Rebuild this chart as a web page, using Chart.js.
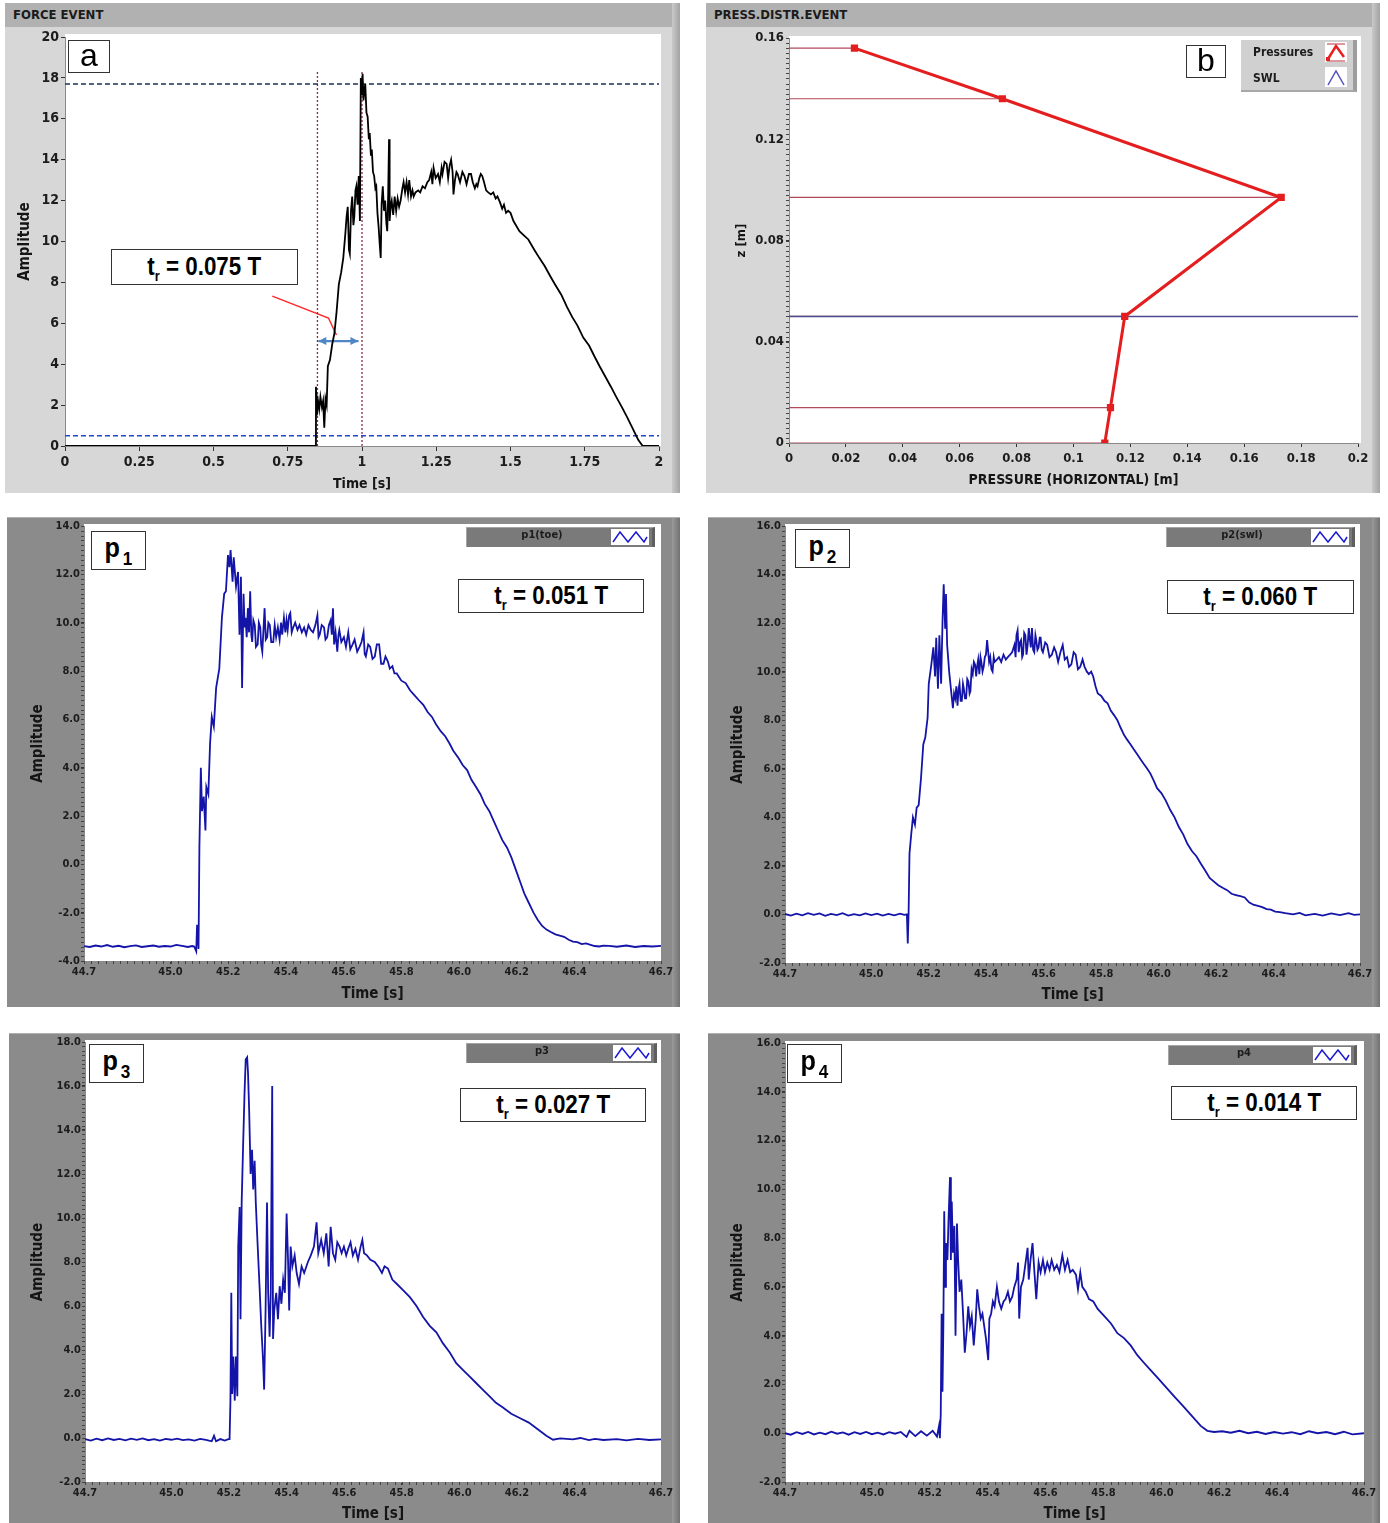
<!DOCTYPE html>
<html>
<head>
<meta charset="utf-8">
<script src="https://cdn.jsdelivr.net/npm/chart.js@4.4.1/dist/chart.umd.min.js"></script>
<style>
  body { margin: 0; background: #fff; }
  #page { position: relative; width: 1388px; height: 1523px; overflow: hidden; }
  .frame { position: absolute; }
  .frame canvas { position: absolute; left: 0; top: 0; }
  .light { background: #d7d7d7; }
  .dark { background: #8b8b8b; border-top: 1px solid #b0b0b0; box-sizing: border-box; }
  .strip { position: absolute; top: 0; right: 0; width: 8px; height: 100%; }
  .light .strip { background: linear-gradient(to right, #c9c9c9, #a3a3a3); }
  .dark .strip { background: linear-gradient(to right, #9a9a9a, #727272); }
  .titlebar { position: absolute; left: 0; top: 0; right: 0; height: 24px; background: #b1b1b1;
    font: bold 13px 'DejaVu Sans Condensed', 'Liberation Sans Narrow', 'Liberation Sans', sans-serif;
    color: #1b1b1b; line-height: 24px; padding-left: 8px; }
  .box { position: absolute; background: #fff; border: 1px solid #333; box-sizing: border-box;
    display: flex; align-items: center; justify-content: center; color: #000; }
  .letter { font: 32px 'Liberation Sans', Arial, sans-serif; line-height: 28px; padding-bottom: 4px; }
  .tr span { display: inline-block; transform: scaleX(0.86); font: bold 26px 'Liberation Sans', Arial, sans-serif; white-space: nowrap; }
  .tr sub { font-size: 15px; vertical-align: -6px; }
  .pb span { font: bold 28px 'Liberation Sans', Arial, sans-serif; transform: scaleX(0.9); display: inline-block; }
  .pb sub { font-size: 19px; vertical-align: -8px; margin-left: 3px; }
  .plegend { position: absolute; height: 20px; box-sizing: border-box; background: #7a7a7a;
    border-top: 1px solid #a5a5a5; border-left: 1px solid #a5a5a5; border-right: 3px solid #5f5f5f; }
  .plegend .lbl { position: absolute; left: 0; width: 150px; top: 0; line-height: 18px; text-align: center;
    font: bold 11px 'DejaVu Sans Condensed', 'Liberation Sans Narrow', 'Liberation Sans', sans-serif; color: #1c1c1c; }
  .plegend svg { position: absolute; top: 1px; right: 3px; background: #fff; }
  .blegend { position: absolute; background: #d0d0d0; border-right: 4px solid #9d9d9d; border-bottom: 2px solid #a8a8a8; box-sizing: border-box;
    font: bold 12px 'DejaVu Sans Condensed', 'Liberation Sans Narrow', 'Liberation Sans', sans-serif; color: #1c1c1c; }
  .blegend div { position: absolute; left: 12px; }
  .blegend svg { position: absolute; left: 84px; background: #fff; }
</style>
</head>
<body>
<div id="page">
  <div class="frame light" style="left:5px;top:3px;width:675px;height:490px">
    <div class="titlebar">FORCE EVENT</div><div class="strip"></div>
    <canvas id="chartA"></canvas>
  </div>
  <div class="frame light" style="left:706px;top:3px;width:674px;height:490px">
    <div class="titlebar">PRESS.DISTR.EVENT</div><div class="strip"></div>
    <canvas id="chartB"></canvas>
  </div>
  <div class="frame dark" style="left:7px;top:517px;width:673px;height:490px"><div class="strip"></div><canvas id="chartP1"></canvas></div>
  <div class="frame dark" style="left:708px;top:517px;width:672px;height:490px"><div class="strip"></div><canvas id="chartP2"></canvas></div>
  <div class="frame dark" style="left:9px;top:1033px;width:671px;height:490px"><div class="strip"></div><canvas id="chartP3"></canvas></div>
  <div class="frame dark" style="left:708px;top:1033px;width:672px;height:490px"><div class="strip"></div><canvas id="chartP4"></canvas></div>

  <!-- panel labels and rise-time boxes -->
  <div class="box letter" style="left:68px;top:40px;width:42px;height:33px">a</div>
  <div class="box tr" style="left:111px;top:249px;width:187px;height:36px"><span>t<sub>r</sub> = 0.075 T</span></div>
  <div class="box letter" style="left:1186px;top:45px;width:40px;height:33px">b</div>
  <div class="blegend" style="left:1241px;top:40px;width:116px;height:52px">
    <div style="top:5px">Pressures</div>
    <div style="top:31px">SWL</div>
    <svg style="top:2px" width="22" height="20"><line x1="2" y1="2" x2="20" y2="2" stroke="#c03040" stroke-width="1"/><polyline points="3,17 11,4 19,15" fill="none" stroke="#e82020" stroke-width="2.5"/><rect x="1" y="15" width="4" height="4" fill="#e82020"/><line x1="2" y1="19" x2="20" y2="19" stroke="#c03040" stroke-width="1"/></svg>
    <svg style="top:27px" width="22" height="20"><polyline points="3,18 11,4 19,18" fill="none" stroke="#5050c0" stroke-width="1.5"/></svg>
  </div>

  <div class="box pb" style="left:91px;top:531px;width:55px;height:39px"><span>p<sub>1</sub></span></div>
  <div class="box tr" style="left:458px;top:579px;width:186px;height:34px"><span>t<sub>r</sub> = 0.051 T</span></div>
  <div class="plegend" style="left:466px;top:527px;width:189px"><div class="lbl">p1(toe)</div>
    <svg width="38" height="16"><polyline points="2,13 9,3 17,13 25,3 33,13 36,8" fill="none" stroke="#1a1ad0" stroke-width="1.5"/></svg></div>

  <div class="box pb" style="left:795px;top:529px;width:55px;height:39px"><span>p<sub>2</sub></span></div>
  <div class="box tr" style="left:1167px;top:580px;width:187px;height:34px"><span>t<sub>r</sub> = 0.060 T</span></div>
  <div class="plegend" style="left:1166px;top:527px;width:189px"><div class="lbl">p2(swl)</div>
    <svg width="38" height="16"><polyline points="2,13 9,3 17,13 25,3 33,13 36,8" fill="none" stroke="#1a1ad0" stroke-width="1.5"/></svg></div>

  <div class="box pb" style="left:89px;top:1044px;width:55px;height:39px"><span>p<sub>3</sub></span></div>
  <div class="box tr" style="left:460px;top:1088px;width:186px;height:34px"><span>t<sub>r</sub> = 0.027 T</span></div>
  <div class="plegend" style="left:466px;top:1043px;width:191px"><div class="lbl">p3</div>
    <svg width="38" height="16"><polyline points="2,13 9,3 17,13 25,3 33,13 36,8" fill="none" stroke="#1a1ad0" stroke-width="1.5"/></svg></div>

  <div class="box pb" style="left:787px;top:1044px;width:55px;height:39px"><span>p<sub>4</sub></span></div>
  <div class="box tr" style="left:1171px;top:1086px;width:186px;height:34px"><span>t<sub>r</sub> = 0.014 T</span></div>
  <div class="plegend" style="left:1168px;top:1045px;width:189px"><div class="lbl">p4</div>
    <svg width="38" height="16"><polyline points="2,13 9,3 17,13 25,3 33,13 36,8" fill="none" stroke="#1a1ad0" stroke-width="1.5"/></svg></div>
</div>

<script>
// ---------- data: (a) force event, [time s, amplitude] ----------
const forceSamples = [
  [0, 0], [0.844, 0], [0.845, 2.9], [0.848, 1.5], [0.852, 2.2], [0.856, 1.8], [0.86, 2.4], [0.865, 1.9],
  [0.869, 2.2], [0.873, 0.9], [0.877, 2.3], [0.881, 2.0], [0.885, 3.9], [0.892, 4.2], [0.9, 5.0], [0.907, 5.5],
  [0.914, 6.5], [0.922, 7.9], [0.93, 8.5], [0.937, 9.2], [0.944, 10.4], [0.948, 11.2], [0.952, 11.7], [0.956, 9.6],
  [0.959, 9.4], [0.963, 11.5], [0.967, 12.2], [0.971, 10.8], [0.974, 11.2], [0.978, 12.5], [0.981, 12.7], [0.985, 11.8],
  [0.989, 13.2], [0.993, 11.0], [0.996, 18.0], [1.0, 17.2], [1.002, 18.2], [1.005, 16.9], [1.008, 17.4], [1.011, 17.7],
  [1.015, 16.3], [1.019, 16.1], [1.023, 15.0], [1.026, 15.3], [1.03, 14.2], [1.033, 14.5], [1.037, 13.4], [1.041, 13.2],
  [1.045, 12.6], [1.048, 12.7], [1.052, 11.4], [1.056, 10.7], [1.06, 9.8], [1.063, 9.2], [1.066, 11.8], [1.07, 12.7],
  [1.074, 11.5], [1.078, 12.0], [1.082, 10.9], [1.085, 10.5], [1.088, 12.2], [1.091, 15.0], [1.093, 11.0], [1.097, 11.8],
  [1.1, 12.0], [1.105, 11.3], [1.11, 12.2], [1.115, 11.5], [1.12, 12.1], [1.125, 11.7], [1.13, 12.0], [1.136, 12.6],
  [1.14, 12.9], [1.145, 12.4], [1.15, 12.9], [1.155, 12.3], [1.159, 13.0], [1.165, 12.2], [1.17, 12.5], [1.174, 12.2],
  [1.18, 12.4], [1.189, 12.5], [1.196, 12.4], [1.204, 12.7], [1.212, 12.6], [1.22, 12.9], [1.226, 13.0], [1.233, 13.4],
  [1.237, 12.8], [1.241, 13.6], [1.248, 13.1], [1.256, 13.3], [1.262, 12.9], [1.268, 13.6], [1.271, 13.3], [1.278, 13.9],
  [1.285, 13.8], [1.29, 13.1], [1.295, 13.7], [1.3, 14.0], [1.305, 13.4], [1.308, 12.3], [1.313, 13.0], [1.318, 13.4],
  [1.322, 13.3], [1.33, 12.9], [1.338, 13.4], [1.345, 13.2], [1.352, 12.8], [1.36, 13.3], [1.367, 13.3], [1.373, 12.9],
  [1.38, 12.6], [1.385, 12.8], [1.389, 12.7], [1.395, 13.1], [1.4, 13.3], [1.405, 13.2], [1.411, 12.9], [1.418, 12.5],
  [1.425, 12.4], [1.434, 12.3], [1.442, 12.4], [1.45, 12.1], [1.456, 12.2], [1.465, 11.9], [1.472, 11.6], [1.478, 11.8],
  [1.485, 11.4], [1.492, 11.5], [1.5, 11.4], [1.51, 11.0], [1.53, 10.5], [1.545, 10.3], [1.56, 10.1], [1.58, 9.6],
  [1.597, 9.2], [1.615, 8.8], [1.634, 8.3], [1.65, 7.9], [1.671, 7.4], [1.69, 6.8], [1.708, 6.3], [1.725, 5.9],
  [1.745, 5.3], [1.765, 4.9], [1.782, 4.4], [1.8, 3.9], [1.819, 3.4], [1.838, 2.9], [1.856, 2.4], [1.875, 1.9],
  [1.893, 1.4], [1.91, 0.9], [1.93, 0.3], [1.945, 0], [2.0, 0]
];
const forcePeakLevel = 17.7;     // dashed line near the peak
const forceBaseLevel = 0.5;      // dashed threshold line
const riseMarks = [0.85, 1.0];   // dotted verticals: start of rise, peak
const riseMarkTop = 18.3;
const pointerSamples = [[0.698, 7.33], [0.887, 6.26], [0.914, 5.43]];
const riseArrow = [[0.853, 5.13], [0.988, 5.13]];

// ---------- data: (b) pressure distribution, [pressure m, z m] ----------
const pressurePoints = [[0.023, 0.156], [0.075, 0.136], [0.173, 0.097], [0.118, 0.050], [0.113, 0.014], [0.111, 0.0]];
const swlLevel = 0.050;

// ---------- data: time axis of pressure records ----------
const timeTicks = [44.7, 45.0, 45.2, 45.4, 45.6, 45.8, 46.0, 46.2, 46.4, 46.7];

const p1Samples = [
  [44.70, -3.38], [44.72, -3.42], [44.74, -3.36], [44.76, -3.40], [44.78, -3.34], [44.80, -3.41], [44.82, -3.37],
  [44.84, -3.43], [44.86, -3.38], [44.88, -3.35], [44.90, -3.42], [44.92, -3.39], [44.94, -3.36], [44.96, -3.41],
  [44.98, -3.38], [45.00, -3.40], [45.02, -3.33], [45.04, -3.37], [45.06, -3.42], [45.075, -3.38], [45.082, -3.40],
  [45.089, -3.6], [45.092, -2.5], [45.097, -3.5], [45.1, 0.7], [45.105, 4.0], [45.109, 2.2], [45.115, 2.8],
  [45.121, 1.4], [45.124, 3.2], [45.131, 2.9], [45.137, 5.0], [45.143, 6.1], [45.150, 5.7], [45.158, 7.3],
  [45.169, 8.1], [45.178, 10.2], [45.186, 11.2], [45.192, 11.3], [45.199, 12.8], [45.204, 12.3], [45.208, 13.0],
  [45.215, 11.7], [45.219, 12.7], [45.227, 11.5], [45.234, 12.1], [45.239, 9.5], [45.244, 11.9], [45.248, 7.3],
  [45.253, 11.2], [45.257, 9.8], [45.260, 10.2], [45.264, 9.4], [45.268, 10.6], [45.272, 9.6], [45.276, 11.3],
  [45.280, 9.5], [45.283, 9.2], [45.287, 10.1], [45.292, 9.9], [45.296, 9.0], [45.302, 9.1], [45.306, 10.0],
  [45.311, 9.8], [45.314, 9.1], [45.318, 8.8], [45.322, 9.7], [45.326, 10.6], [45.330, 9.3], [45.335, 9.4],
  [45.339, 10.0], [45.344, 9.9], [45.349, 9.2], [45.356, 9.2], [45.361, 9.9], [45.366, 9.4], [45.372, 9.8],
  [45.378, 9.3], [45.383, 10.0], [45.387, 9.5], [45.393, 10.2], [45.398, 9.6], [45.402, 10.1], [45.406, 9.7],
  [45.411, 10.3], [45.415, 10.4], [45.420, 9.6], [45.425, 9.8], [45.432, 10.0], [45.440, 9.7], [45.447, 9.9],
  [45.455, 9.6], [45.463, 9.8], [45.470, 9.5], [45.478, 9.9], [45.486, 9.7], [45.494, 9.6], [45.502, 9.9],
  [45.509, 10.3], [45.513, 9.4], [45.517, 9.5], [45.524, 9.9], [45.532, 9.8], [45.537, 9.3], [45.543, 9.4],
  [45.549, 9.9], [45.555, 10.1], [45.559, 9.5], [45.563, 10.6], [45.567, 9.1], [45.572, 9.6], [45.578, 8.8],
  [45.582, 9.5], [45.585, 9.7], [45.592, 9.2], [45.601, 9.4], [45.608, 9.0], [45.616, 9.6], [45.623, 8.9],
  [45.631, 9.1], [45.638, 9.3], [45.647, 8.8], [45.655, 9.0], [45.662, 9.2], [45.669, 9.6], [45.673, 8.7],
  [45.677, 8.6], [45.685, 9.1], [45.692, 9.0], [45.700, 8.5], [45.708, 8.6], [45.715, 9.1], [45.723, 9.1],
  [45.730, 8.3], [45.738, 8.3], [45.745, 8.6], [45.753, 8.4], [45.760, 8.1], [45.769, 8.2], [45.776, 7.9],
  [45.784, 7.9], [45.800, 7.6], [45.815, 7.5], [45.830, 7.2], [45.845, 7.0], [45.860, 6.8], [45.876, 6.6],
  [45.891, 6.3], [45.906, 6.1], [45.920, 5.8], [45.937, 5.5], [45.952, 5.3], [45.967, 5.0], [45.980, 4.7],
  [45.998, 4.4], [46.013, 4.1], [46.028, 3.9], [46.043, 3.5], [46.059, 3.2], [46.074, 2.9], [46.089, 2.5],
  [46.105, 2.2], [46.120, 1.8], [46.135, 1.4], [46.150, 1.0], [46.166, 0.7], [46.181, 0.3], [46.196, -0.2],
  [46.211, -0.7], [46.226, -1.2], [46.242, -1.6], [46.258, -2.0], [46.273, -2.3], [46.288, -2.55], [46.303, -2.7],
  [46.318, -2.8], [46.334, -2.9], [46.349, -2.95], [46.364, -3.0], [46.380, -3.12], [46.395, -3.2], [46.410, -3.22],
  [46.425, -3.3], [46.440, -3.27], [46.456, -3.33], [46.470, -3.38], [46.486, -3.4], [46.500, -3.36],
  [46.520, -3.37], [46.547, -3.41], [46.580, -3.36], [46.610, -3.42], [46.640, -3.38], [46.670, -3.40], [46.700, -3.37]
];

const p2Samples = [
  [44.70, 0.02], [44.72, -0.05], [44.74, 0.03], [44.76, -0.04], [44.78, 0.05], [44.80, -0.02], [44.82, 0.04],
  [44.84, -0.06], [44.86, 0.02], [44.88, -0.03], [44.90, 0.05], [44.92, -0.05], [44.94, 0.01], [44.96, -0.04],
  [44.98, 0.04], [45.00, -0.03], [45.02, 0.03], [45.04, -0.05], [45.06, 0.02], [45.08, -0.04], [45.10, 0.03],
  [45.115, -0.02], [45.124, 0.0], [45.127, -1.2], [45.130, 0.1], [45.133, 2.5], [45.139, 3.3], [45.145, 4.0],
  [45.152, 3.7], [45.158, 4.4], [45.165, 4.5], [45.173, 5.6], [45.181, 7.0], [45.188, 7.3], [45.196, 8.1],
  [45.200, 9.5], [45.208, 10.2], [45.216, 11.0], [45.222, 9.8], [45.226, 11.4], [45.232, 9.3], [45.237, 11.5],
  [45.243, 9.5], [45.248, 12.1], [45.252, 13.6], [45.257, 11.8], [45.260, 13.2], [45.264, 11.1], [45.271, 10.0],
  [45.277, 9.3], [45.284, 8.5], [45.288, 9.1], [45.292, 8.9], [45.296, 9.4], [45.300, 8.6], [45.304, 9.3],
  [45.307, 9.5], [45.311, 8.8], [45.315, 8.8], [45.319, 9.5], [45.322, 9.3], [45.326, 8.9], [45.330, 8.9],
  [45.334, 9.7], [45.338, 9.6], [45.342, 9.1], [45.345, 9.2], [45.349, 10.1], [45.353, 9.9], [45.357, 10.4],
  [45.361, 10.3], [45.365, 9.8], [45.368, 10.2], [45.372, 10.5], [45.376, 9.9], [45.380, 10.6], [45.383, 10.4],
  [45.387, 10.0], [45.391, 10.2], [45.395, 10.6], [45.399, 10.7], [45.403, 11.3], [45.406, 11.3], [45.410, 10.4],
  [45.414, 10.6], [45.418, 10.1], [45.422, 10.0], [45.426, 10.6], [45.429, 10.4], [45.437, 10.5], [45.444, 10.6],
  [45.452, 10.4], [45.460, 10.7], [45.468, 10.5], [45.475, 10.6], [45.483, 10.7], [45.490, 10.8], [45.498, 11.1],
  [45.502, 10.6], [45.505, 11.5], [45.509, 11.7], [45.513, 10.8], [45.517, 11.2], [45.521, 11.3], [45.525, 10.6],
  [45.528, 10.7], [45.532, 11.6], [45.536, 11.5], [45.540, 10.7], [45.544, 11.1], [45.548, 11.8], [45.551, 11.4],
  [45.555, 11.0], [45.559, 11.8], [45.563, 10.9], [45.567, 10.8], [45.571, 11.5], [45.574, 11.3], [45.578, 10.9],
  [45.582, 11.0], [45.586, 11.4], [45.589, 11.4], [45.593, 10.9], [45.597, 10.8], [45.605, 11.2], [45.612, 11.1],
  [45.620, 10.6], [45.628, 10.7], [45.636, 11.0], [45.643, 10.8], [45.650, 10.4], [45.658, 10.8], [45.666, 11.1],
  [45.673, 10.5], [45.681, 10.6], [45.688, 10.2], [45.696, 10.3], [45.704, 10.8], [45.711, 10.7], [45.719, 10.1],
  [45.727, 10.2], [45.735, 10.5], [45.742, 10.2], [45.750, 10.0], [45.757, 9.9], [45.765, 10.0], [45.772, 9.8],
  [45.780, 9.4], [45.788, 9.1], [45.800, 9.0], [45.811, 8.8], [45.822, 8.7], [45.833, 8.4], [45.845, 8.2],
  [45.856, 8.0], [45.867, 7.7], [45.879, 7.4], [45.890, 7.2], [45.902, 7.0], [45.913, 6.8], [45.925, 6.6],
  [45.936, 6.4], [45.948, 6.2], [45.960, 6.0], [45.971, 5.8], [45.983, 5.5], [45.994, 5.2], [46.009, 5.0],
  [46.024, 4.7], [46.040, 4.3], [46.055, 4.0], [46.070, 3.6], [46.085, 3.3], [46.100, 2.9], [46.116, 2.6],
  [46.131, 2.4], [46.146, 2.1], [46.162, 1.8], [46.177, 1.5], [46.192, 1.35], [46.207, 1.2], [46.222, 1.1],
  [46.238, 1.0], [46.253, 0.85], [46.268, 0.8], [46.284, 0.75], [46.299, 0.7], [46.314, 0.5], [46.329, 0.4],
  [46.345, 0.35], [46.360, 0.3], [46.375, 0.22], [46.390, 0.2], [46.405, 0.12], [46.421, 0.1], [46.440, 0.05],
  [46.467, 0.0], [46.490, 0.06], [46.510, -0.04], [46.543, 0.02], [46.570, -0.05], [46.600, 0.04], [46.630, -0.03],
  [46.660, 0.05], [46.680, -0.02], [46.700, 0.0]
];

const p3Samples = [
  [44.70, -0.05], [44.72, -0.12], [44.74, -0.03], [44.76, -0.10], [44.78, -0.02], [44.80, -0.09], [44.82, -0.04],
  [44.84, -0.11], [44.86, -0.03], [44.88, -0.08], [44.90, -0.02], [44.92, -0.10], [44.94, -0.05], [44.96, -0.12],
  [44.98, -0.04], [45.00, -0.08], [45.02, -0.03], [45.04, -0.10], [45.06, -0.06], [45.08, -0.12], [45.10, -0.04],
  [45.12, -0.09], [45.14, -0.15], [45.148, 0.1], [45.155, -0.15], [45.17, -0.05], [45.185, -0.12], [45.198, -0.05],
  [45.202, -0.05], [45.205, 1.7], [45.208, 6.6], [45.211, 2.0], [45.215, 3.7], [45.220, 1.7], [45.224, 3.7],
  [45.229, 1.9], [45.232, 8.7], [45.237, 10.5], [45.240, 5.4], [45.244, 10.7], [45.249, 13.3], [45.254, 15.7],
  [45.258, 17.2], [45.263, 17.3], [45.266, 16.6], [45.270, 14.9], [45.275, 12.0], [45.280, 13.1], [45.284, 11.3],
  [45.289, 12.6], [45.293, 10.7], [45.299, 8.9], [45.306, 6.9], [45.312, 5.1], [45.318, 3.6], [45.322, 2.2],
  [45.327, 5.8], [45.332, 10.7], [45.336, 6.6], [45.341, 4.6], [45.345, 6.6], [45.350, 16.0], [45.353, 4.5],
  [45.357, 5.8], [45.364, 6.6], [45.370, 5.4], [45.376, 6.9], [45.382, 6.1], [45.388, 7.2], [45.394, 6.6],
  [45.400, 10.2], [45.405, 8.1], [45.409, 5.8], [45.414, 8.7], [45.420, 7.8], [45.428, 8.3], [45.435, 7.5],
  [45.443, 7.0], [45.452, 7.8], [45.461, 7.5], [45.474, 8.0], [45.484, 8.3], [45.495, 8.7], [45.504, 9.8],
  [45.510, 8.4], [45.520, 9.0], [45.529, 8.4], [45.538, 9.3], [45.546, 7.8], [45.553, 9.6], [45.561, 8.4],
  [45.569, 8.1], [45.576, 8.9], [45.584, 8.7], [45.591, 8.4], [45.599, 8.7], [45.607, 8.3], [45.614, 8.6],
  [45.622, 8.9], [45.630, 8.3], [45.639, 8.6], [45.648, 8.1], [45.657, 8.7], [45.663, 9.0], [45.669, 8.4],
  [45.679, 8.3], [45.691, 8.1], [45.706, 8.0], [45.718, 7.8], [45.731, 7.5], [45.740, 7.8], [45.752, 7.7],
  [45.767, 7.2], [45.783, 7.0], [45.806, 6.7], [45.828, 6.4], [45.851, 6.0], [45.874, 5.5], [45.897, 5.1],
  [45.920, 4.8], [45.943, 4.3], [45.966, 3.9], [45.989, 3.4], [46.012, 3.1], [46.035, 2.8], [46.058, 2.5],
  [46.081, 2.2], [46.104, 1.9], [46.127, 1.6], [46.150, 1.4], [46.180, 1.1], [46.211, 0.9], [46.241, 0.7],
  [46.272, 0.4], [46.302, 0.1], [46.325, -0.08], [46.350, -0.02], [46.394, -0.06], [46.420, 0.0], [46.450, -0.1],
  [46.471, -0.04], [46.500, -0.09], [46.547, -0.05], [46.580, -0.11], [46.620, -0.04], [46.660, -0.09], [46.700, -0.06]
];

const p4Samples = [
  [44.70, 0.0], [44.72, -0.06], [44.74, 0.04], [44.76, -0.03], [44.78, 0.05], [44.80, -0.05], [44.82, 0.02],
  [44.84, -0.04], [44.86, 0.06], [44.88, -0.02], [44.90, 0.03], [44.92, -0.06], [44.94, 0.04], [44.96, -0.03],
  [44.98, 0.05], [45.00, -0.04], [45.02, 0.02], [45.04, -0.05], [45.06, 0.04], [45.08, -0.02], [45.10, 0.05],
  [45.12, -0.15], [45.13, 0.1], [45.15, -0.12], [45.17, 0.08], [45.19, -0.1], [45.21, 0.1], [45.225, -0.14],
  [45.232, 0.3], [45.235, -0.2], [45.238, 0.8], [45.241, 4.9], [45.244, 1.7], [45.247, 4.4], [45.250, 9.1],
  [45.253, 6.0], [45.256, 7.8], [45.261, 7.1], [45.265, 8.8], [45.270, 10.5], [45.273, 7.1], [45.276, 9.5],
  [45.280, 7.4], [45.285, 8.5], [45.289, 4.0], [45.294, 8.6], [45.298, 7.1], [45.303, 5.8], [45.309, 6.3],
  [45.315, 4.9], [45.321, 3.3], [45.327, 4.1], [45.333, 5.2], [45.339, 4.4], [45.345, 4.8], [45.352, 3.6],
  [45.359, 4.7], [45.364, 5.9], [45.370, 5.2], [45.376, 4.7], [45.382, 4.9], [45.388, 4.4], [45.394, 3.9],
  [45.402, 3.0], [45.406, 4.7], [45.412, 4.9], [45.418, 5.4], [45.424, 5.2], [45.432, 6.0], [45.439, 5.4],
  [45.447, 5.1], [45.455, 5.4], [45.462, 5.5], [45.470, 5.8], [45.477, 5.4], [45.485, 5.6], [45.492, 6.0],
  [45.500, 6.3], [45.505, 7.0], [45.509, 4.7], [45.515, 6.0], [45.523, 6.3], [45.530, 6.9], [45.538, 7.6],
  [45.542, 6.3], [45.548, 7.1], [45.555, 7.8], [45.561, 6.7], [45.568, 5.5], [45.576, 7.0], [45.583, 6.6],
  [45.591, 7.1], [45.598, 6.6], [45.606, 7.0], [45.614, 6.7], [45.621, 7.1], [45.630, 6.7], [45.639, 6.9],
  [45.648, 6.6], [45.658, 7.3], [45.667, 6.7], [45.676, 7.1], [45.685, 6.6], [45.694, 6.7], [45.705, 6.5],
  [45.712, 5.9], [45.720, 6.6], [45.727, 6.0], [45.739, 5.8], [45.750, 5.5], [45.765, 5.4], [45.780, 5.1],
  [45.803, 4.8], [45.826, 4.5], [45.848, 4.1], [45.871, 3.9], [45.894, 3.6], [45.917, 3.2], [45.939, 2.9],
  [45.962, 2.6], [45.985, 2.3], [46.015, 1.9], [46.045, 1.5], [46.076, 1.1], [46.106, 0.7], [46.136, 0.3],
  [46.159, 0.1], [46.182, 0.05], [46.21, 0.08], [46.24, 0.02], [46.27, 0.1], [46.30, 0.0], [46.33, 0.06],
  [46.36, -0.03], [46.39, 0.05], [46.42, -0.02], [46.45, 0.04], [46.48, -0.04], [46.51, 0.08], [46.54, 0.0],
  [46.57, 0.05], [46.60, -0.04], [46.63, 0.06], [46.66, -0.05], [46.70, 0.0]
];

// ---------- helpers ----------
const TICK_FONT = "'DejaVu Sans Condensed', 'Liberation Sans Narrow', 'Liberation Sans', sans-serif";
const toXY = pairs => pairs.map(p => ({ x: p[0], y: p[1] }));
const trimNum = v => String(+v.toFixed(2));

// white plotting area
const plotBg = {
  id: 'plotBg',
  beforeDraw(chart, args, o) {
    const a = chart.chartArea, ctx = chart.ctx;
    const up = o.extendTop || 0;
    ctx.save();
    ctx.fillStyle = '#fff';
    ctx.fillRect(a.left, a.top - up, a.right - a.left + (o.extendRight || 0), a.bottom - a.top + up);
    ctx.restore();
  }
};

// small dotted minor ticks along the axes
const minorTicks = {
  id: 'minorTicks',
  afterDraw(chart, args, o) {
    const { ctx, chartArea: a } = chart;
    ctx.save();
    ctx.strokeStyle = o.color || '#444';
    ctx.lineWidth = 1;
    [['x', o.x], ['y', o.y]].forEach(([k, step]) => {
      if (!step) return;
      const s = chart.scales[k];
      const n = Math.round((s.max - s.min) / step);
      for (let i = 0; i <= n; i++) {
        const p = Math.round(s.getPixelForValue(s.min + i * step)) + 0.5;
        ctx.beginPath();
        if (k === 'y') { ctx.moveTo(a.left - 3, p); ctx.lineTo(a.left, p); }
        else { ctx.moveTo(p, a.bottom); ctx.lineTo(p, a.bottom + 3); }
        ctx.stroke();
      }
    });
    ctx.restore();
  }
};

// arrow heads on both ends of a dataset flagged with arrowEnds
const arrowEnds = {
  id: 'arrowEnds',
  afterDatasetsDraw(chart) {
    const ctx = chart.ctx;
    chart.data.datasets.forEach((ds, i) => {
      if (!ds.arrowEnds) return;
      const pts = chart.getDatasetMeta(i).data;
      const a = pts[0], b = pts[pts.length - 1];
      ctx.save();
      ctx.fillStyle = ds.borderColor;
      [[a, -1], [b, 1]].forEach(([p, dir]) => {
        ctx.beginPath();
        ctx.moveTo(p.x, p.y);
        ctx.lineTo(p.x - dir * 8, p.y - 4);
        ctx.lineTo(p.x - dir * 8, p.y + 4);
        ctx.closePath();
        ctx.fill();
      });
      ctx.restore();
    });
  }
};

function axis(cfg, fit, isX) {
  return {
    type: 'linear',
    min: cfg.min,
    max: cfg.max,
    afterFit: fit,
    afterBuildTicks: cfg.tickValues ? s => { s.ticks = cfg.tickValues.map(v => ({ value: v })); } : undefined,
    border: { display: true, color: '#8a8a8a' },
    grid: { drawOnChartArea: false, color: '#333', tickLength: cfg.tickLength || 3 },
    ticks: {
      color: '#1c1c1c', padding: cfg.tickPad, maxRotation: 0, autoSkip: false,
      stepSize: cfg.step, callback: cfg.format,
      font: { family: TICK_FONT, size: cfg.tickSize, weight: 'bold' }
    },
    title: {
      display: true, text: cfg.title, color: '#151515',
      padding: isX ? { top: 0, bottom: cfg.titlePad } : { top: cfg.titlePad, bottom: 0 },
      font: { family: TICK_FONT, size: cfg.titleSize, weight: 'bold' }
    }
  };
}

function makeChart(id, geom, datasets, xCfg, yCfg) {
  const canvas = document.getElementById(id);
  canvas.width = geom.w;
  canvas.height = geom.h;
  return new Chart(canvas, {
    type: 'line',
    data: { datasets: datasets },
    options: {
      responsive: false,
      animation: false,
      layout: { padding: { top: geom.top, right: geom.w - geom.right, left: 0, bottom: 0 } },
      elements: { point: { radius: 0 }, line: { tension: 0 } },
      plugins: {
        legend: { display: false },
        tooltip: { enabled: false },
        plotBg: { extendTop: geom.bgUp || 0, extendRight: geom.bgRight || 0 },
        minorTicks: geom.minor || {}
      },
      scales: {
        x: axis(xCfg, s => { s.height = geom.h - geom.bottom; }, true),
        y: axis(yCfg, s => { s.width = geom.left; }, false)
      }
    },
    plugins: [plotBg, minorTicks, arrowEnds]
  });
}

// ---------- (a) FORCE EVENT ----------
makeChart('chartA',
  { w: 675, h: 490, left: 60, right: 654, top: 34, bottom: 443, bgUp: 3, bgRight: 2 },
  [
    { data: toXY(forceSamples), borderColor: '#000', borderWidth: 1.8 },
    { data: [{ x: 0, y: forcePeakLevel }, { x: 2, y: forcePeakLevel }], borderColor: '#1d3354', borderWidth: 1.5, borderDash: [5, 3] },
    { data: [{ x: 0, y: forceBaseLevel }, { x: 2, y: forceBaseLevel }], borderColor: '#2346c8', borderWidth: 1.5, borderDash: [5, 3] },
    { data: [{ x: riseMarks[0], y: 0 }, { x: riseMarks[0], y: riseMarkTop }], borderColor: '#8e2848', borderWidth: 1.3, borderDash: [2, 2] },
    { data: [{ x: riseMarks[1], y: 0 }, { x: riseMarks[1], y: riseMarkTop }], borderColor: '#8e2848', borderWidth: 1.3, borderDash: [2, 2] },
    { data: toXY(pointerSamples), borderColor: '#ff2a2a', borderWidth: 1.5 },
    { data: toXY(riseArrow), borderColor: '#4f86c6', borderWidth: 2.2, arrowEnds: true }
  ],
  { title: 'Time [s]', titleSize: 14, titlePad: 0, tickSize: 14, tickLength: 5, tickPad: 3,
    min: 0, max: 2, step: 0.25, format: v => String(v) },
  { title: 'Amplitude', titleSize: 15, titlePad: 11, tickSize: 14, tickLength: 4, tickPad: 2,
    min: 0, max: 20, step: 2, format: v => String(v) }
);

// ---------- (b) PRESS.DISTR.EVENT ----------
const pressRungs = pressurePoints.map(p => ({
  data: [{ x: 0, y: p[1] }, { x: p[0], y: p[1] }], borderColor: '#b04a58', borderWidth: 1.2
}));
makeChart('chartB',
  { w: 674, h: 490, left: 83, right: 652, top: 35, bottom: 440, bgUp: 2, bgRight: 3, minor: { y: 0.002 } },
  [
    { data: toXY(pressurePoints), borderColor: '#e41e1e', borderWidth: 3,
      pointRadius: 3, pointStyle: 'rect', pointBackgroundColor: '#e41e1e', pointBorderColor: '#e41e1e' },
    { data: [{ x: 0, y: swlLevel }, { x: 0.2, y: swlLevel }], borderColor: '#4a4a8e', borderWidth: 1.4 }
  ].concat(pressRungs),
  { title: 'PRESSURE (HORIZONTAL) [m]', titleSize: 14, titlePad: 4, tickSize: 13, tickLength: 4, tickPad: 4,
    min: 0, max: 0.2, step: 0.02, format: trimNum },
  { title: 'z [m]', titleSize: 13, titlePad: 28, tickSize: 13, tickLength: 3, tickPad: 2,
    min: 0, max: 0.16, step: 0.04, format: trimNum }
);

// ---------- p1..p4 pressure records ----------
function pressureChart(id, geom, samples, yMin, yMax, yTitlePad, xTitlePad) {
  return makeChart(id, Object.assign({ minor: { x: 0.025, y: 0.2 }, bgUp: 2 }, geom),
    [{ data: toXY(samples), borderColor: '#1414a8', borderWidth: 1.8 }],
    { title: 'Time [s]', titleSize: 15, titlePad: xTitlePad, tickSize: 11, tickLength: 3, tickPad: 2,
      min: timeTicks[0], max: timeTicks[timeTicks.length - 1], tickValues: timeTicks, format: v => v.toFixed(1) },
    { title: 'Amplitude', titleSize: 15, titlePad: yTitlePad, tickSize: 11, tickLength: 3, tickPad: 1,
      min: yMin, max: yMax, step: 2, format: v => v.toFixed(1) }
  );
}

pressureChart('chartP1', { w: 673, h: 490, left: 77, right: 654, top: 8, bottom: 443 }, p1Samples, -4, 14, 22, 5);
pressureChart('chartP2', { w: 672, h: 490, left: 77, right: 652, top: 8, bottom: 445 }, p2Samples, -2, 16, 21, 4);
pressureChart('chartP3', { w: 671, h: 490, left: 76, right: 652, top: 8, bottom: 448 }, p3Samples, -2, 18, 20, 1);
pressureChart('chartP4', { w: 672, h: 490, left: 77, right: 656, top: 9, bottom: 448 }, p4Samples, -2, 16, 21, 1);
</script>
</body>
</html>
